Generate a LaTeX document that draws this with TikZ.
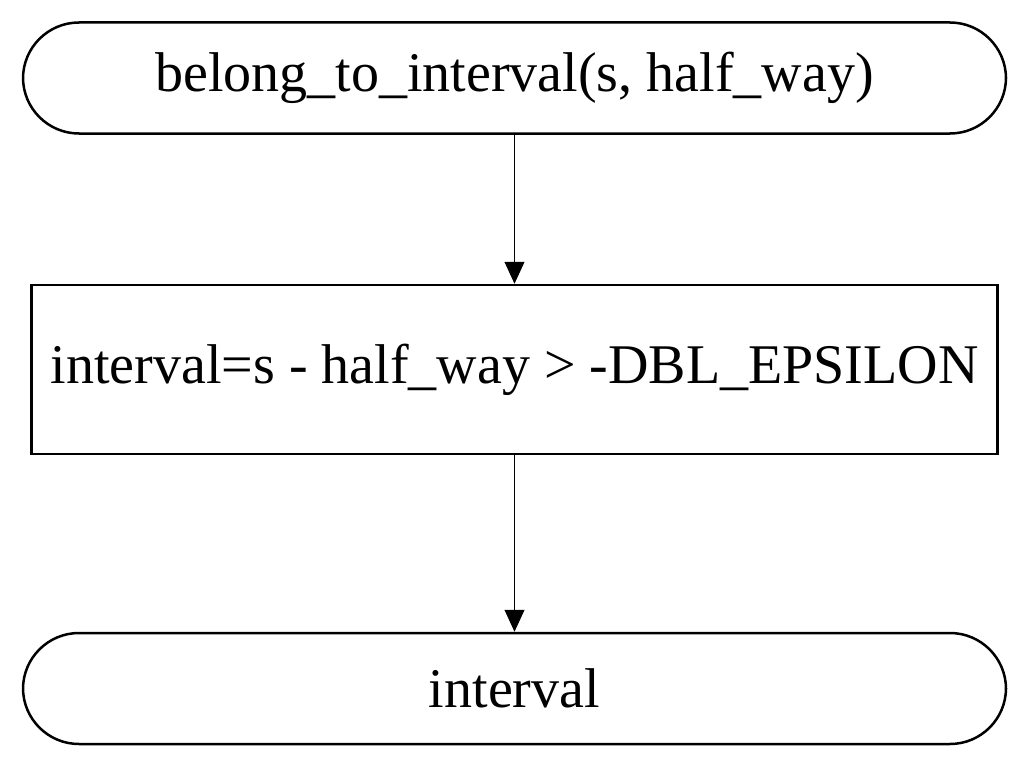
\documentclass[tikz,border=0pt]{standalone}
\usepackage{fontspec}
\setmainfont{Liberation Serif}
\usetikzlibrary{arrows.meta,shapes}
\tikzstyle{terminal}=[draw,line width=2.5pt,rounded corners=56pt,minimum width=983pt,minimum height=111pt,inner sep=0pt]
\tikzstyle{process}=[draw,line width=2.5pt,minimum width=966pt,minimum height=169pt,inner sep=0pt]
\tikzstyle{flow}=[draw,line width=1pt,-{Triangle[width=20pt,length=22pt]}]

\begin{document}
\begin{tikzpicture}[x=1pt,y=-1pt,font=\fontsize{56}{67}\selectfont]
    \useasboundingbox (0,0) rectangle (1029,768);
    % First we place the blocks
    \node[terminal] (start) at (514.5,78) {belong\_to\_interval(s, half\_way)};
    \node[process] (calc) at (514.5,369.5) {interval=s - half\_way > -DBL\_EPSILON};
    \node[terminal] (end) at (514.5,688.5) {interval};
    % Connect blocks with flow lines
    \foreach \source/\dest in {start/calc, calc/end}
        \path[flow] (\source.south) -- (\dest.north);
\end{tikzpicture}
\end{document}
